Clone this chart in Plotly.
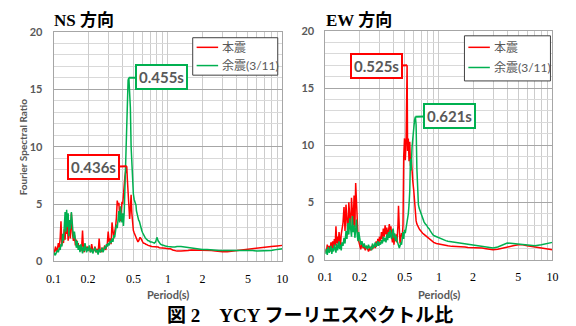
import math
import plotly.graph_objects as go

# Period axis (s), shared by all four spectra
period = [
    0.100, 0.102, 0.104, 0.106, 0.108, 0.110, 0.112, 0.114, 0.116, 0.118, 0.120,
    0.122, 0.124, 0.126, 0.128, 0.130, 0.132, 0.134, 0.136, 0.138, 0.140,
    0.143, 0.146, 0.149, 0.152, 0.155, 0.158, 0.161, 0.164, 0.167, 0.170,
    0.173, 0.176, 0.179, 0.182, 0.185, 0.188, 0.191, 0.194, 0.197,
    0.200, 0.205, 0.210, 0.215, 0.220, 0.225, 0.230, 0.235, 0.240, 0.245, 0.250,
    0.255, 0.260, 0.265, 0.270, 0.275, 0.280, 0.285, 0.290, 0.295, 0.300,
    0.306, 0.312, 0.318, 0.324, 0.330, 0.336, 0.342, 0.348, 0.354, 0.360,
    0.366, 0.372, 0.378, 0.384, 0.390, 0.396, 0.402, 0.408, 0.414, 0.420,
    0.427, 0.436, 0.441, 0.448, 0.455, 0.462, 0.469, 0.476, 0.483, 0.490,
    0.498, 0.506, 0.514, 0.525, 0.530, 0.538, 0.546, 0.554, 0.562, 0.570,
    0.580, 0.590, 0.600, 0.610, 0.621, 0.630, 0.640, 0.650, 0.660, 0.670, 0.680, 0.690, 0.700,
    0.720, 0.740, 0.760, 0.780, 0.800, 0.820, 0.840, 0.860, 0.880, 0.900,
    0.95, 1.00, 1.05, 1.10, 1.15, 1.20,
    1.3, 1.4, 1.5, 1.6, 1.7, 1.8,
    2.0, 2.2, 2.4, 2.6, 2.8, 3.0,
    3.3, 3.6, 4.0, 4.5, 5.0, 5.5, 6.0,
    7.0, 8.0, 9.0, 10.0,
]

# NS component: main shock / aftershock (3/11) spectral ratio
ns_main = [
    0.7, 0.9, 1.3, 0.8, 1.1, 1.6, 1.2, 2.0, 3.5, 1.4, 2.2,
    1.6, 2.8, 1.9, 3.3, 2.4, 3.0, 1.8, 2.6, 3.4, 2.0,
    4.2, 2.5, 1.8, 2.3, 1.4, 1.9, 1.2, 1.6, 1.0, 1.4,
    0.9, 1.3, 2.7, 1.2, 0.8, 1.5, 1.1, 0.9, 1.3,
    1.0, 1.2, 0.8, 1.5, 1.0, 0.9, 1.3, 0.8, 1.1, 0.7, 2.0,
    1.0, 0.8, 1.2, 0.9, 1.1, 1.4, 1.0, 1.3, 1.6, 2.6,
    1.7, 2.0, 1.5, 3.4, 2.3, 2.0, 2.6, 3.0, 3.8, 5.3,
    4.9, 5.1, 4.0, 3.5, 4.4, 5.2, 5.0, 6.2, 7.0, 7.4,
    7.9, 8.3, 7.2, 5.8, 4.5, 3.7, 4.6, 5.8, 4.2, 3.0,
    2.7, 2.5, 2.3, 2.1, 2.0, 1.8, 1.7, 1.8, 2.0, 2.1,
    2.0, 1.8, 1.7, 1.6, 1.6, 1.55, 1.5, 1.5, 1.45, 1.4, 1.4, 1.4, 1.35,
    1.3, 1.3, 1.3, 1.25, 1.3, 1.25, 1.2, 1.2, 1.2, 1.2,
    1.15, 1.1, 1.1, 1.0, 0.95, 0.9,
    0.9, 0.9, 0.95, 1.0, 1.0, 1.0,
    1.0, 1.0, 0.95, 0.9, 0.85, 0.85,
    0.85, 0.9, 0.95, 1.0, 1.05, 1.1, 1.15,
    1.25, 1.3, 1.35, 1.4,
]
ns_after = [
    0.5, 0.7, 0.6, 0.9, 1.0, 0.8, 1.2, 1.0, 1.5, 1.3, 2.4,
    1.8, 3.2, 4.3, 2.6, 4.5, 3.0, 4.2, 2.2, 3.6, 2.8,
    4.3, 3.2, 2.0, 2.6, 1.6, 1.2, 1.8, 1.0, 1.4, 0.8,
    1.5, 1.1, 0.7, 1.3, 0.9, 1.6, 1.0, 0.8, 1.2,
    0.9, 1.4, 0.8, 1.1, 0.7, 1.0, 1.2, 0.8, 1.0, 0.6, 1.1,
    0.8, 0.9, 1.2, 0.8, 1.0, 1.3, 1.1, 1.5, 1.3, 1.6,
    1.4, 1.8, 1.6, 2.0, 1.7, 2.3, 2.1, 2.6, 3.2, 2.9,
    3.8, 4.4, 3.4, 4.8, 3.9, 3.4, 4.2, 3.1, 4.2, 6.0,
    9.0, 11.0, 14.0, 15.8, 16.0, 14.8, 13.4, 10.0, 8.0, 6.8,
    5.9, 5.4, 5.2, 4.9, 4.4, 4.0, 3.8, 3.6, 3.5, 3.2,
    3.0, 2.7, 2.5, 2.3, 2.2, 2.1, 2.0, 1.9, 1.85, 1.8, 1.8, 1.75, 1.7,
    1.7, 1.65, 1.6, 1.7, 2.1, 1.8, 1.6, 1.5, 1.45, 1.4,
    1.35, 1.3, 1.25, 1.25, 1.25, 1.3,
    1.3, 1.25, 1.2, 1.15, 1.1, 1.1,
    1.05, 1.05, 1.0, 1.0, 0.95, 0.95,
    0.95, 0.95, 1.0, 1.0, 1.0, 0.95, 0.9,
    0.9, 0.95, 1.05, 1.1,
]

# EW component: main shock / aftershock (3/11) spectral ratio
ew_main = [
    0.9, 0.6, 1.3, 0.8, 1.2, 0.7, 1.5, 1.0, 1.6, 0.9, 1.8,
    1.2, 2.9, 1.4, 2.0, 1.3, 2.4, 1.6, 1.2, 2.2, 2.6,
    3.2, 4.6, 2.5, 4.8, 3.0, 2.2, 5.0, 3.4, 2.6, 5.4,
    4.0, 3.0, 5.6, 2.8, 6.7, 4.5, 3.0, 2.0, 1.6,
    1.2, 0.9, 1.4, 1.0, 1.1, 0.8, 1.2, 0.9, 0.7, 1.0, 0.8,
    1.2, 0.9, 1.1, 1.3, 1.0, 1.6, 1.2, 1.8, 1.4, 2.0,
    1.6, 2.4, 1.8, 2.7, 2.0, 3.0, 2.2, 2.8, 1.9, 2.5,
    3.1, 2.3, 2.9, 2.0, 1.5, 2.6, 1.3, 2.0, 1.6, 2.2,
    1.5, 3.0, 4.7, 2.8, 1.4, 1.9, 2.3, 2.0, 3.0, 9.0,
    10.6, 8.7, 10.2, 17.0, 9.5, 10.6, 8.6, 10.3, 8.2, 9.0,
    7.5, 6.8, 6.1, 5.0, 4.0, 3.4, 3.1, 2.9, 2.8, 2.7, 2.6, 2.5, 2.4,
    2.3, 2.2, 2.1, 2.0, 1.9, 1.8, 1.7, 1.6, 1.55, 1.5,
    1.4, 1.35, 1.3, 1.25, 1.2, 1.2,
    1.15, 1.15, 1.1, 1.1, 1.1, 1.05,
    1.05, 1.0, 1.0, 0.95, 0.9, 0.85,
    0.9, 1.0, 1.1, 1.2, 1.3, 1.3, 1.2,
    1.1, 1.0, 0.9, 0.85,
]
ew_after = [
    0.5, 0.9, 0.4, 1.1, 0.6, 0.8, 1.2, 0.5, 1.0, 0.7, 1.3,
    0.9, 0.6, 1.4, 0.8, 1.1, 1.6, 0.9, 1.3, 0.8, 1.5,
    1.2, 1.9, 1.4, 2.5, 1.8, 3.2, 2.2, 3.6, 2.7, 2.0,
    3.8, 2.4, 3.0, 1.9, 2.6, 3.5, 2.1, 1.6, 2.4,
    1.8, 1.3, 1.6, 1.1, 1.4, 1.0, 1.2, 0.9, 1.3, 1.0, 1.1,
    0.8, 1.4, 1.0, 1.2, 1.5, 1.1, 1.3, 1.6, 1.2, 1.5,
    1.3, 1.7, 1.4, 2.0, 1.6, 1.9, 1.5, 2.2, 1.7, 2.4,
    1.9, 2.6, 2.0, 1.8, 2.5, 2.7, 1.9, 2.3, 1.6, 2.1,
    1.7, 1.4, 1.1, 1.0, 1.2, 1.5, 1.3, 1.9, 2.4, 1.8,
    2.6, 2.3, 2.8, 3.0, 3.4, 4.0, 4.8, 6.0, 8.8, 7.8,
    9.8, 10.8, 12.0, 12.2, 12.5, 11.8, 8.0, 5.5, 4.8, 4.5, 4.3, 4.1, 3.9,
    3.6, 3.3, 3.1, 3.0, 2.8, 2.7, 2.5, 2.3, 2.2, 2.1,
    2.0, 1.9, 1.75, 1.7, 1.65, 1.6,
    1.55, 1.5, 1.45, 1.4, 1.35, 1.3,
    1.25, 1.2, 1.15, 1.1, 1.05, 1.0,
    1.1, 1.25, 1.45, 1.4, 1.35, 1.3, 1.25,
    1.2, 1.3, 1.4, 1.5,
]

x_tickvals = [0.1, 0.2, 0.5, 1, 2, 5, 10]
x_ticktext = ["0.1", "0.2", "0.5", "1", "2", "5", "10"]
y_tickvals = [0, 5, 10, 15, 20]

series_names = ["本震", "余震(3/11)"]
panel_titles = ["NS 方向", "EW 方向"]
caption = "図 2　YCY フーリエスペクトル比"

RED = "#ff0000"
GREEN = "#00b050"
GRAY_TEXT = "#595959"
SANS = "Lato, Noto Sans CJK JP, sans-serif"
SERIF = "Liberation Serif, Noto Sans CJK JP, serif"

W, H = 576, 326


def px_x(p):
    return p / W


def px_y(p):
    return 1 - p / H


fig = go.Figure()
panels = [
    ("x", "y", ns_main, ns_after),
    ("x2", "y2", ew_main, ew_after),
]
for xa, ya, main, after in panels:
    for vals, name, color in ((main, series_names[0], RED), (after, series_names[1], GREEN)):
        fig.add_trace(go.Scatter(
            x=period, y=vals, name=name, mode="lines",
            line=dict(color=color, width=1.5),
            xaxis=xa, yaxis=ya, showlegend=False,
        ))

xaxis_style = dict(
    type="log", range=[-1, 1],
    tickmode="array", tickvals=x_tickvals, ticktext=x_ticktext,
    showgrid=True, gridcolor="#cccccc", gridwidth=1,
    minor=dict(dtick="D1", showgrid=True, gridcolor="#cccccc", gridwidth=1),
    showline=True, linecolor="#a6a6a6", linewidth=1, mirror=True,
    zeroline=False, ticks="",
    tickfont=dict(family=SERIF, size=12, color="#000000"),
    ticklabelstandoff=6,
)
yaxis_style = dict(
    range=[0, 20], tickmode="array", tickvals=y_tickvals,
    showgrid=True, gridcolor="#a6a6a6", gridwidth=1.2,
    minor=dict(dtick=1, showgrid=True, gridcolor="#d9d9d9", gridwidth=1),
    showline=True, linecolor="#a6a6a6", linewidth=1, mirror=True,
    zeroline=False, ticks="",
    tickfont=dict(family=SANS, size=11, color=GRAY_TEXT, weight="bold"),
    ticklabelstandoff=8,
)

fig.update_layout(
    width=W, height=H,
    margin=dict(l=0, r=0, t=0, b=0),
    paper_bgcolor="white", plot_bgcolor="white",
    xaxis=dict(domain=[px_x(47.7), px_x(281.7)], anchor="y", **xaxis_style),
    yaxis=dict(domain=[px_y(265), px_y(26)], anchor="x", **yaxis_style),
    xaxis2=dict(domain=[px_x(325.7), px_x(558)], anchor="y2", **xaxis_style),
    yaxis2=dict(domain=[px_y(263), px_y(25)], anchor="x2", **yaxis_style),
    showlegend=False,
)

# Legend boxes drawn inside each panel: (box left, top, right, bottom, row1 y, row2 y, sample x0, x1)
legend_layout = [
    (190, 32, 277, 71, 42, 61, 194, 216),
    (468, 30, 556, 77, 42, 63, 472, 494),
]
for bx0, by0, bx1, by1, r1, r2, lx0, lx1 in legend_layout:
    fig.add_shape(
        type="rect", xref="paper", yref="paper", layer="above",
        x0=px_x(bx0), x1=px_x(bx1), y0=px_y(by1), y1=px_y(by0),
        line=dict(color="#404040", width=1), fillcolor="white",
    )
    for ry, name, color in ((r1, series_names[0], RED), (r2, series_names[1], GREEN)):
        fig.add_shape(
            type="line", xref="paper", yref="paper", layer="above",
            x0=px_x(lx0), x1=px_x(lx1), y0=px_y(ry), y1=px_y(ry),
            line=dict(color=color, width=1.5),
        )
        fig.add_annotation(
            x=px_x(lx1 + 2), y=px_y(ry), xref="paper", yref="paper",
            xanchor="left", yanchor="middle", showarrow=False, text=name,
            font=dict(family=SANS, size=12, color=GRAY_TEXT),
        )

# Peak callouts: label each spectrum's maximum with its period
callouts = [
    ("x", "y", ns_main, RED, -33, 1),
    ("x", "y", ns_after, GREEN, 33, -1),
    ("x2", "y2", ew_main, RED, -31, 1),
    ("x2", "y2", ew_after, GREEN, 34, -1),
]
for xa, ya, vals, color, ax, ay in callouts:
    i = vals.index(max(vals))
    fig.add_annotation(
        x=math.log10(period[i]), y=vals[i], xref=xa, yref=ya,
        text=f"{period[i]:.3f}s",
        font=dict(family=SANS, size=15, color=GRAY_TEXT, weight="bold"),
        bgcolor="white", bordercolor=color, borderwidth=2, borderpad=2,
        showarrow=True, arrowhead=0, arrowwidth=2, arrowcolor=color,
        ax=ax, ay=ay, standoff=0,
    )

# Panel titles
for title, left in zip(panel_titles, (46, 324)):
    fig.add_annotation(
        x=px_x(left), y=px_y(14), xref="paper", yref="paper",
        xanchor="left", yanchor="middle", showarrow=False, text=title,
        font=dict(family=SERIF, size=17, color="#000000", weight="bold"),
    )

# Axis titles
fig.add_annotation(
    x=px_x(16), y=px_y(145.5), xref="paper", yref="paper",
    xanchor="center", yanchor="middle",
    showarrow=False, textangle=-90, text="Fourier Spectral Ratio",
    font=dict(family=SANS, size=10, color=GRAY_TEXT, weight="bold"),
)
for cx in (165, 442):
    fig.add_annotation(
        x=px_x(cx), y=px_y(299), xref="paper", yref="paper",
        xanchor="center", yanchor="middle",
        showarrow=False, text="Period(s)",
        font=dict(family=SANS, size=11, color=GRAY_TEXT, weight="bold"),
    )

# Figure caption
fig.add_annotation(
    x=px_x(310), y=px_y(321), xref="paper", yref="paper",
    xanchor="center", yanchor="middle",
    showarrow=False, text=caption,
    font=dict(family=SERIF, size=19, color="#000000", weight="bold"),
)

fig.write_html("out.html")
